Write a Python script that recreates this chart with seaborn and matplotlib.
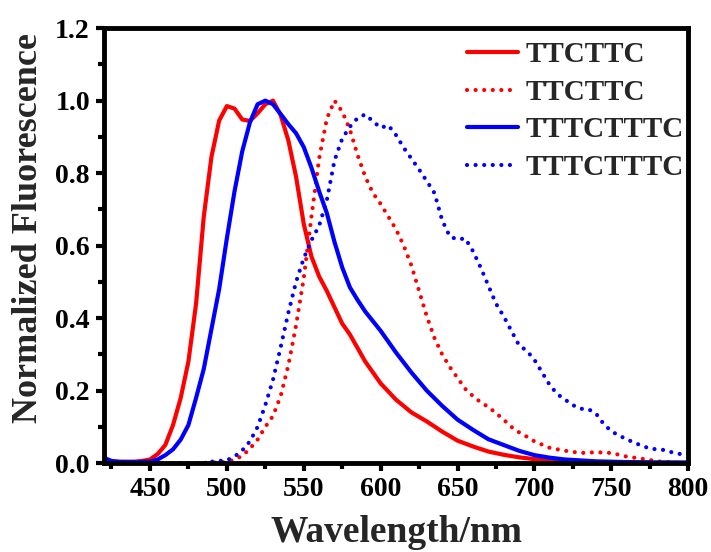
import matplotlib
matplotlib.use("Agg")
import matplotlib.pyplot as plt
import seaborn as sns
import pandas as pd
from matplotlib.ticker import MultipleLocator

# ---- data ----
wl_ttc_solid = [420, 430, 440, 445, 450, 455, 460, 465, 470, 475, 480, 485, 490, 495, 500, 505,
                510, 515, 520, 525, 530, 535, 540, 545, 550, 555, 560, 565, 570, 575, 580, 590,
                600, 610, 620, 630, 640, 650, 660, 670, 680, 690, 700, 720, 740, 760, 780, 800]
fl_ttc_solid = [0.005, 0.003, 0.004, 0.006, 0.01, 0.025, 0.05, 0.105, 0.18, 0.28, 0.44, 0.68,
                0.845, 0.945, 0.985, 0.978, 0.948, 0.944, 0.965, 0.99, 1.0, 0.96, 0.89, 0.79,
                0.66, 0.57, 0.515, 0.475, 0.43, 0.385, 0.355, 0.28, 0.22, 0.175, 0.14, 0.115,
                0.087, 0.062, 0.046, 0.032, 0.023, 0.016, 0.011, 0.006, 0.003, 0.002, 0.001, 0.0]

wl_ttc_dot = [425, 440, 460, 480, 500, 505, 510, 515, 520, 525, 530, 535, 540, 545, 550, 555,
              560, 565, 570, 575, 580, 585, 590, 595, 600, 605, 610, 615, 620, 625, 630, 635,
              640, 645, 650, 655, 660, 665, 670, 675, 680, 685, 690, 695, 700, 710, 720, 730,
              740, 750, 760, 770, 780, 790, 800]
fl_ttc_dot = [0.0, 0.0, 0.0, 0.0, 0.003, 0.01, 0.02, 0.04, 0.065, 0.1, 0.13, 0.185, 0.27, 0.38,
              0.51, 0.68, 0.84, 0.95, 1.0, 0.97, 0.92, 0.85, 0.79, 0.745, 0.715, 0.68, 0.645,
              0.6, 0.545, 0.475, 0.405, 0.345, 0.3, 0.265, 0.235, 0.205, 0.185, 0.168, 0.155,
              0.138, 0.12, 0.1, 0.085, 0.073, 0.06, 0.042, 0.034, 0.028, 0.03, 0.028, 0.018,
              0.012, 0.005, 0.002, 0.0]

wl_tttc_solid = [420, 425, 430, 440, 450, 455, 460, 465, 470, 475, 480, 485, 490, 495, 500, 505,
                 510, 515, 520, 525, 530, 535, 540, 545, 550, 555, 560, 565, 570, 575, 580, 585,
                 590, 600, 610, 620, 630, 640, 650, 660, 670, 680, 690, 700, 710, 720, 740, 760,
                 780, 800]
fl_tttc_solid = [0.015, 0.006, 0.004, 0.003, 0.004, 0.01, 0.022, 0.038, 0.065, 0.105, 0.18, 0.26,
                 0.37, 0.48, 0.62, 0.75, 0.86, 0.94, 0.99, 1.0, 0.99, 0.963, 0.935, 0.91, 0.872,
                 0.815, 0.75, 0.69, 0.61, 0.54, 0.485, 0.45, 0.418, 0.365, 0.305, 0.25, 0.2,
                 0.158, 0.12, 0.092, 0.066, 0.05, 0.034, 0.022, 0.015, 0.01, 0.005, 0.003,
                 0.002, 0.002]

wl_tttc_dot = [485, 490, 495, 500, 505, 510, 515, 520, 525, 530, 535, 540, 545, 550, 555, 560,
               565, 570, 575, 580, 585, 590, 595, 600, 605, 610, 615, 620, 625, 630, 635, 640,
               645, 650, 655, 660, 665, 670, 675, 680, 685, 690, 695, 700, 705, 710, 715, 720,
               725, 730, 735, 740, 745, 750, 755, 760, 765, 770, 775, 780, 785, 790, 795, 800]
fl_tttc_dot = [0.0, 0.004, 0.006, 0.008, 0.018, 0.035, 0.06, 0.1, 0.16, 0.23, 0.32, 0.415, 0.5,
               0.565, 0.615, 0.655, 0.725, 0.835, 0.895, 0.928, 0.952, 0.962, 0.943, 0.925,
               0.932, 0.905, 0.87, 0.84, 0.81, 0.778, 0.745, 0.67, 0.625, 0.617, 0.62, 0.585,
               0.54, 0.49, 0.44, 0.405, 0.365, 0.325, 0.31, 0.285, 0.25, 0.215, 0.19, 0.175,
               0.16, 0.15, 0.149, 0.137, 0.108, 0.088, 0.076, 0.066, 0.056, 0.048, 0.04, 0.038,
               0.036, 0.029, 0.025, 0.025]

labels = ["TTCTTC", "TTCTTC", "TTTCTTTC", "TTTCTTTC"]
x_ticks = [450, 500, 550, 600, 650, 700, 750, 800]
y_ticks = [0.0, 0.2, 0.4, 0.6, 0.8, 1.0, 1.2]

# ---- style ----
sns.set_theme(style="ticks")
plt.rcParams['font.family'] = ['Liberation Serif', 'DejaVu Serif']
plt.rcParams['font.weight'] = 'bold'

fig = plt.figure(figsize=(7.11, 5.52), dpi=100)
ax = fig.add_axes([0.146, 0.161, 0.822, 0.788])

series = [
    (wl_ttc_solid, fl_ttc_solid, labels[0], "#FF0000", "-"),
    (wl_ttc_dot, fl_ttc_dot, labels[1], "#FF0000", (0, (0.01, 2.05))),
    (wl_tttc_solid, fl_tttc_solid, labels[2], "#0000FF", "-"),
    (wl_tttc_dot, fl_tttc_dot, labels[3], "#0000FF", (0, (0.01, 2.05))),
]
for wl, fl, lab, col, ls in series:
    df = pd.DataFrame({"wl": wl, "fl": fl})
    sns.lineplot(data=df, x="wl", y="fl", ax=ax, color=col, linestyle=ls,
                 linewidth=3.0, label=lab, dash_capstyle="round", sort=False)

ax.set_xlim(420, 800)
ax.set_ylim(0, 1.2)
ax.set_xticks(x_ticks)
ax.set_yticks(y_ticks)
ax.set_xticklabels([str(v) for v in x_ticks])
ax.set_yticklabels([f"{v:.1f}" for v in y_ticks])
ax.xaxis.set_minor_locator(MultipleLocator(25))
ax.yaxis.set_minor_locator(MultipleLocator(0.1))

for sp in ax.spines.values():
    sp.set_linewidth(3.5)
    sp.set_color("black")
    sp.set_visible(True)

ax.tick_params(axis="both", which="major", direction="out", length=6, width=3,
               labelsize=20, pad=4, colors="black")
ax.tick_params(axis="both", which="minor", direction="out", length=4, width=3, colors="black")
ax.tick_params(top=False, right=False, which="both")
for t in ax.get_xticklabels() + ax.get_yticklabels():
    t.set_fontweight("bold")

ax.set_xlabel("Wavelength/nm", fontsize=27, fontweight="bold", labelpad=9)
ax.set_ylabel("Normalized Fluorescence", fontsize=26, fontweight="bold")
ax.yaxis.set_label_coords(-0.10, 0.54)

leg = ax.legend(loc="upper right", frameon=False, fontsize=21, handlelength=1.75,
                handletextpad=0.28, labelspacing=0.36, borderaxespad=0.1,
                bbox_to_anchor=(1.018, 1.003))
for t in leg.get_texts():
    t.set_fontweight("bold")

ax.grid(False)
fig.savefig("out.png", dpi=100)
